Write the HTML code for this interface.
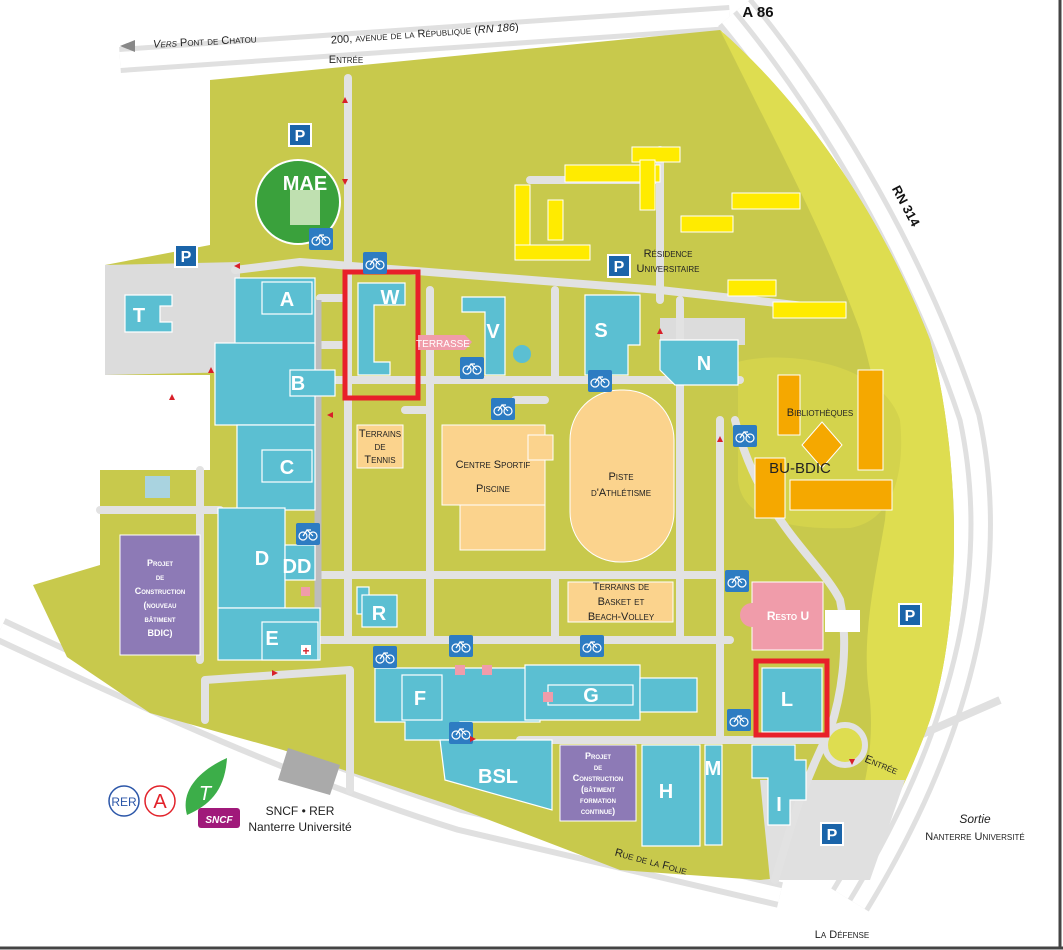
<!DOCTYPE html>
<html><head><meta charset="utf-8"><style>
html,body{margin:0;padding:0;background:#fff;}
svg{display:block;font-family:"Liberation Sans",sans-serif;}
.b{fill:#5bbfd2;stroke:#fff;stroke-width:1.2}
.lbl{fill:#fff;font-weight:bold;font-size:20px;text-anchor:middle}
.t{fill:#222;font-size:11px;font-variant:small-caps;text-anchor:middle}
.r{fill:none;stroke:#e2e2e2;stroke-width:8;stroke-linecap:round;stroke-linejoin:round}
</style></head><body>
<svg width="1063" height="950" viewBox="0 0 1063 950">
<defs>
<g id="bk"><rect width="24" height="22" rx="2" fill="#2d7cc2"/><circle cx="7" cy="13" r="4" fill="none" stroke="#fff" stroke-width="1.2"/><circle cx="17" cy="13" r="4" fill="none" stroke="#fff" stroke-width="1.2"/><path d="M7,13 L11,7 L17,13 M11,7 L15,7" stroke="#fff" stroke-width="1.2" fill="none"/></g>
</defs>
<rect width="1063" height="950" fill="#fff"/>
<!-- outer roads -->
<path d="M120,60 L730,18" stroke="#e0e0e0" stroke-width="26" fill="none"/>
<path d="M120,60 L730,18" stroke="#fff" stroke-width="16" fill="none"/>
<path d="M735,12 C800,90 900,240 960,420 C990,560 960,720 850,900" stroke="#e0e0e0" stroke-width="44" fill="none"/>
<path d="M735,12 C800,90 900,240 960,420 C990,560 960,720 850,900" stroke="#fff" stroke-width="34" fill="none"/>
<path d="M735,12 C800,90 900,240 960,420 C990,560 960,720 850,900" stroke="#e0e0e0" stroke-width="5" fill="none"/>
<path d="M0,630 C150,700 300,770 460,820 L780,895" stroke="#e0e0e0" stroke-width="26" fill="none"/>
<path d="M0,630 C150,700 300,770 460,820 L780,895" stroke="#fff" stroke-width="14" fill="none"/>
<path d="M840,770 L1000,700" stroke="#e0e0e0" stroke-width="8" fill="none"/>
<!-- campus green -->
<path d="M210,80 L720,30 C800,100 880,210 930,340 C962,460 962,620 930,720 C905,790 880,830 860,870 L760,880 L620,870 L450,805 L283,750 L150,713 L67,657 L33,585 L100,565 L100,470 L210,470 L210,375 L105,375 L105,265 L210,245 Z" fill="#c8c94c"/>
<path d="M720,30 C800,100 880,210 930,340 C962,460 962,620 930,720 C905,790 880,830 860,870 L840,862 C860,810 875,760 870,700 C860,640 875,580 885,520 C890,460 880,400 860,330 C830,250 800,190 770,130 C750,90 735,60 720,30 Z" fill="#dedd50"/>
<path d="M738,362 C780,350 880,360 900,420 C905,470 895,520 850,528 C790,530 742,520 738,480 Z" fill="#d4d34c"/>
<!-- grey areas -->
<path d="M105,265 L240,262 L240,372 L105,375 Z" fill="#dcdcdc"/>
<rect x="145" y="476" width="25" height="22" fill="#a9d3e0"/>
<path d="M760,780 L905,780 L870,880 L770,880 Z" fill="#e0e0e0"/>
<path d="M660,318 L745,318 L745,345 L660,345 Z" fill="#dcdcdc"/>
<path d="M288,748 L340,765 L330,795 L278,780 Z" fill="#aaa"/>
<!-- inner roads -->
<path class="r" d="M348,78 L348,640"/>
<path class="r" d="M235,270 L300,262 L660,290 L840,310"/>
<path class="r" d="M320,380 L740,380"/>
<path class="r" d="M320,298 L345,298 M320,345 L345,345"/>
<path class="r" d="M320,575 L720,575"/>
<path class="r" d="M320,640 L730,640"/>
<path class="r" d="M430,290 L430,640 M555,290 L555,380 M680,300 L680,640 M555,575 L555,640 M720,420 L720,740"/>
<path class="r" d="M405,410 L430,410 M515,400 L545,400"/>
<path class="r" d="M520,740 L850,740"/>
<path class="r" d="M205,680 L350,670 L350,790 M205,680 L205,720"/>
<path class="r" d="M100,510 L220,510 M200,470 L200,660"/>
<path class="r" d="M660,150 L660,300 M530,180 L660,180"/>
<path class="r" d="M735,420 C760,520 820,560 840,600 C850,650 840,700 830,730 C800,790 790,830 775,880"/>
<circle cx="845" cy="745" r="20" fill="#dedd50" stroke="#e2e2e2" stroke-width="6"/>
<path d="M318,300 L318,620" stroke="#bcbcbc" stroke-width="7"/>
<!-- light orange -->
<rect x="442" y="425" width="103" height="80" fill="#fbd38d" stroke="#fff"/>
<rect x="460" y="505" width="85" height="45" fill="#fbd38d" stroke="#fff"/>
<rect x="528" y="435" width="25" height="25" fill="#fbd38d" stroke="#fff"/>
<rect x="357" y="425" width="46" height="43" fill="#fbd38d" stroke="#fff"/>
<rect x="570" y="390" width="104" height="172" rx="50" fill="#fbd38d" stroke="#fff"/>
<rect x="568" y="582" width="105" height="40" fill="#fbd38d" stroke="#fff"/>
<!-- yellow residences -->
<g fill="#ffeb00" stroke="#fff">
<rect x="565" y="165" width="95" height="17"/><rect x="632" y="147" width="48" height="15"/>
<rect x="515" y="185" width="15" height="70"/><rect x="515" y="245" width="75" height="15"/>
<rect x="548" y="200" width="15" height="40"/><rect x="640" y="160" width="15" height="50"/>
<rect x="732" y="193" width="68" height="16"/><rect x="681" y="216" width="52" height="16"/>
<rect x="728" y="280" width="48" height="16"/><rect x="773" y="302" width="73" height="16"/>
</g>
<!-- orange library -->
<g fill="#f5a800" stroke="#fff">
<rect x="778" y="375" width="22" height="60"/><rect x="858" y="370" width="25" height="100"/>
<rect x="755" y="458" width="30" height="60"/><rect x="790" y="480" width="102" height="30"/>
<polygon points="822,422 842,445 822,468 802,445"/>
</g>
<!-- pink resto -->
<rect x="752" y="582" width="71" height="68" fill="#f09caa" stroke="#fff"/>
<circle cx="752" cy="615" r="12" fill="#f09caa"/>
<rect x="825" y="610" width="35" height="22" fill="#fff"/>
<!-- purple -->
<rect x="120" y="535" width="80" height="120" fill="#8d7ab6" stroke="#fff"/>
<rect x="560" y="745" width="76" height="76" fill="#8d7ab6" stroke="#fff"/>
<!-- cyan buildings -->
<rect class="b" x="235" y="278" width="80" height="67"/><rect class="b" x="262" y="282" width="50" height="32"/>
<rect class="b" x="215" y="343" width="100" height="82"/><rect class="b" x="290" y="370" width="45" height="26"/>
<rect class="b" x="237" y="425" width="78" height="85"/><rect class="b" x="262" y="450" width="50" height="32"/>
<rect class="b" x="218" y="508" width="67" height="100"/><rect class="b" x="285" y="545" width="30" height="35"/>
<rect class="b" x="218" y="608" width="102" height="52"/><rect class="b" x="262" y="622" width="56" height="38"/>
<path class="b" d="M125,295 L172,295 L172,306 L160,306 L160,322 L172,322 L172,332 L125,332 Z"/>
<path class="b" d="M358,283 L405,283 L405,305 L374,305 L374,362 L390,362 L390,375 L358,375 Z"/>
<path class="b" d="M462,297 L505,297 L505,375 L485,375 L485,312 L462,312 Z"/>
<circle cx="522" cy="354" r="9" fill="#5bbfd2"/>
<path class="b" d="M585,295 L640,295 L640,345 L628,345 L628,375 L585,375 Z"/>
<path class="b" d="M660,340 L738,340 L738,385 L675,385 L660,370 Z"/>
<rect class="b" x="357" y="587" width="12" height="27"/><rect class="b" x="362" y="595" width="35" height="32"/>
<path class="b" d="M375,668 L540,668 L540,722 L460,722 L460,740 L405,740 L405,722 L375,722 Z"/>
<rect class="b" x="402" y="675" width="40" height="45"/>
<path class="b" d="M525,665 L640,665 L640,720 L525,720 Z"/><rect class="b" x="640" y="678" width="57" height="34"/>
<rect class="b" x="548" y="685" width="85" height="20"/>
<path class="b" d="M440,740 L552,740 L552,810 L445,780 Z"/>
<path class="b" d="M642,745 L700,745 L700,846 L642,846 Z"/>
<rect class="b" x="705" y="745" width="17" height="100"/>
<path class="b" d="M752,745 L795,745 L795,760 L806,760 L806,800 L790,800 L790,825 L768,825 L768,778 L752,778 Z"/>
<rect class="b" x="762" y="668" width="60" height="64"/>
<rect x="345" y="272" width="73" height="126" fill="none" stroke="#e8202a" stroke-width="5"/>
<rect x="756" y="661" width="71" height="74" fill="none" stroke="#e8202a" stroke-width="5"/>
<!-- MAE -->
<circle cx="298" cy="202" r="42" fill="#3aa13c" stroke="#fff" stroke-width="2"/>
<rect x="290" y="190" width="30" height="35" fill="#bfe0b0"/>
<text x="305" y="190" class="lbl" font-size="18">MAE</text>
<!-- pink terrasse -->
<path d="M418,335 L465,335 L472,342 L465,350 L418,350 Z" fill="#f09caa"/>
<text x="443" y="347" fill="#fff" font-size="10" text-anchor="middle">TERRASSE</text>
<!-- building labels -->
<text x="287" y="306" class="lbl">A</text><text x="298" y="390" class="lbl">B</text>
<text x="287" y="474" class="lbl">C</text><text x="262" y="565" class="lbl">D</text>
<text x="297" y="573" class="lbl" font-size="16">DD</text><text x="272" y="645" class="lbl">E</text>
<text x="139" y="322" class="lbl">T</text><text x="390" y="304" class="lbl" font-size="18">W</text>
<text x="493" y="338" class="lbl">V</text><text x="601" y="337" class="lbl">S</text>
<text x="704" y="370" class="lbl">N</text><text x="379" y="620" class="lbl">R</text>
<text x="420" y="705" class="lbl">F</text><text x="591" y="702" class="lbl">G</text>
<text x="498" y="783" class="lbl">BSL</text><text x="666" y="798" class="lbl">H</text>
<text x="713" y="775" class="lbl" font-size="17">M</text><text x="779" y="811" class="lbl">I</text>
<text x="787" y="706" class="lbl">L</text>
<text x="788" y="620" fill="#fff" font-size="12" font-weight="bold" text-anchor="middle" style="font-variant:small-caps">Resto U</text>
<g fill="#fff" font-size="9" font-weight="bold" text-anchor="middle" style="font-variant:small-caps">
<text x="160" y="566">Projet</text><text x="160" y="580">de</text><text x="160" y="594">Construction</text><text x="160" y="608">(nouveau</text><text x="160" y="622">bâtiment</text><text x="160" y="636">BDIC)</text>
<text x="598" y="759">Projet</text><text x="598" y="770">de</text><text x="598" y="781">Construction</text><text x="598" y="792">(bâtiment</text><text x="598" y="803">formation</text><text x="598" y="814">continue)</text>
</g>
<!-- labels -->
<text x="380" y="437" class="t">Terrains</text><text x="380" y="450" class="t">de</text><text x="380" y="463" class="t">Tennis</text>
<text x="493" y="468" class="t" font-size="12">Centre Sportif</text><text x="493" y="492" class="t" font-size="12">Piscine</text>
<text x="621" y="480" class="t" font-size="12">Piste</text><text x="621" y="496" class="t" font-size="12">d'Athlétisme</text>
<text x="621" y="590" class="t">Terrains de</text><text x="621" y="605" class="t">Basket et</text><text x="621" y="620" class="t">Beach-Volley</text>
<text x="820" y="416" class="t">Bibliothèques</text>
<text x="800" y="473" font-size="15" fill="#222" text-anchor="middle">BU-BDIC</text>
<text x="668" y="257" class="t" text-anchor="start" font-size="12">Résidence</text><text x="668" y="272" class="t" text-anchor="start" font-size="12">Universitaire</text>
<text x="346" y="63" class="t" font-size="10">Entrée</text>
<text x="425" y="37" class="t" font-size="10" transform="rotate(-4 425 37)">200, avenue de la République (<tspan font-style="italic">RN 186</tspan>)</text>
<text x="205" y="45" class="t" font-size="11" transform="rotate(-3 205 45)"><tspan font-style="italic">Vers</tspan> Pont de Chatou</text>
<path d="M120,46 L135,40 L135,52 Z" fill="#888"/>
<text x="758" y="17" font-size="15" font-weight="bold" fill="#111" text-anchor="middle">A 86</text>
<text x="902" y="208" font-size="13" font-weight="bold" fill="#111" text-anchor="middle" transform="rotate(62 902 208)">RN 314</text>
<text x="880" y="768" class="t" font-size="10" transform="rotate(22 880 768)">Entrée</text>
<text x="975" y="823" font-size="12" font-style="italic" fill="#222" text-anchor="middle">Sortie</text>
<text x="975" y="840" class="t" font-size="12">Nanterre Université</text>
<text x="842" y="938" class="t" font-size="13">La Défense</text>
<text x="650" y="865" class="t" font-size="12" transform="rotate(15 650 865)">Rue de la Folie</text>
<text x="300" y="815" font-size="12" fill="#222" text-anchor="middle">SNCF • RER</text>
<text x="300" y="831" font-size="12" fill="#222" text-anchor="middle">Nanterre Université</text>
<!-- transit logos -->
<circle cx="124" cy="801" r="15" fill="#fff" stroke="#2b56a8" stroke-width="1.5"/><text x="124" y="806" font-size="12" fill="#2b56a8" text-anchor="middle">RER</text>
<circle cx="160" cy="801" r="15" fill="#fff" stroke="#e2222a" stroke-width="1.5"/><text x="160" y="808" font-size="20" fill="#e2222a" text-anchor="middle">A</text>
<path d="M187,815 C180,790 200,770 227,758 C225,790 210,805 187,815 Z" fill="#3cae49"/>
<text x="205" y="800" font-size="20" font-style="italic" fill="#fff" text-anchor="middle">T</text>
<rect x="198" y="808" width="42" height="20" rx="3" fill="#a0197a"/><text x="219" y="823" font-size="10" font-style="italic" fill="#fff" text-anchor="middle" font-weight="bold">SNCF</text>
<!-- parking -->
<g font-size="16" font-weight="bold" fill="#fff" text-anchor="middle">
<rect x="289" y="124" width="22" height="22" fill="#1a64a9" stroke="#fff" stroke-width="2"/><text x="300" y="141">P</text>
<rect x="175" y="245" width="22" height="22" fill="#1a64a9" stroke="#fff" stroke-width="2"/><text x="186" y="262">P</text>
<rect x="608" y="255" width="22" height="22" fill="#1a64a9" stroke="#fff" stroke-width="2"/><text x="619" y="272">P</text>
<rect x="899" y="604" width="22" height="22" fill="#1a64a9" stroke="#fff" stroke-width="2"/><text x="910" y="621">P</text>
<rect x="821" y="823" width="22" height="22" fill="#1a64a9" stroke="#fff" stroke-width="2"/><text x="832" y="840">P</text>
</g>
<!-- bikes -->
<use href="#bk" x="309" y="228"/><use href="#bk" x="363" y="252"/><use href="#bk" x="460" y="357"/>
<use href="#bk" x="491" y="398"/><use href="#bk" x="588" y="370"/><use href="#bk" x="733" y="425"/>
<use href="#bk" x="296" y="523"/><use href="#bk" x="725" y="570"/><use href="#bk" x="373" y="646"/>
<use href="#bk" x="449" y="635"/><use href="#bk" x="580" y="635"/><use href="#bk" x="449" y="722"/>
<use href="#bk" x="727" y="709"/>
<!-- small red arrows -->
<g fill="#d8202a">
<path d="M345,97 l-3,6 h6 z"/><path d="M345,185 l-3,-6 h6 z"/><path d="M234,266 l6,-3 v6 z"/><path d="M211,367 l-3,6 h6 z"/>
<path d="M660,328 l-3,6 h6 z"/><path d="M720,436 l-3,6 h6 z"/><path d="M172,394 l-3,6 h6 z"/><path d="M327,415 l6,-3 v6 z"/>
<path d="M272,670 l6,3 l-6,3 z"/><path d="M852,765 l-3,-6 h6 z"/><path d="M470,736 l6,3 l-6,3 z"/>
</g>
<rect x="301" y="587" width="9" height="9" fill="#f09caa"/><rect x="455" y="665" width="10" height="10" fill="#f09caa"/><rect x="482" y="665" width="10" height="10" fill="#f09caa"/><rect x="543" y="692" width="10" height="10" fill="#f09caa"/>
<rect x="301" y="645" width="10" height="10" fill="#fff"/><text x="306" y="655" fill="#d8202a" font-size="12" text-anchor="middle" font-weight="bold">+</text>
<line x1="1060" y1="0" x2="1060" y2="948" stroke="#444" stroke-width="3"/>
<line x1="0" y1="948" x2="1063" y2="948" stroke="#444" stroke-width="3"/>
</svg>
</body></html>
